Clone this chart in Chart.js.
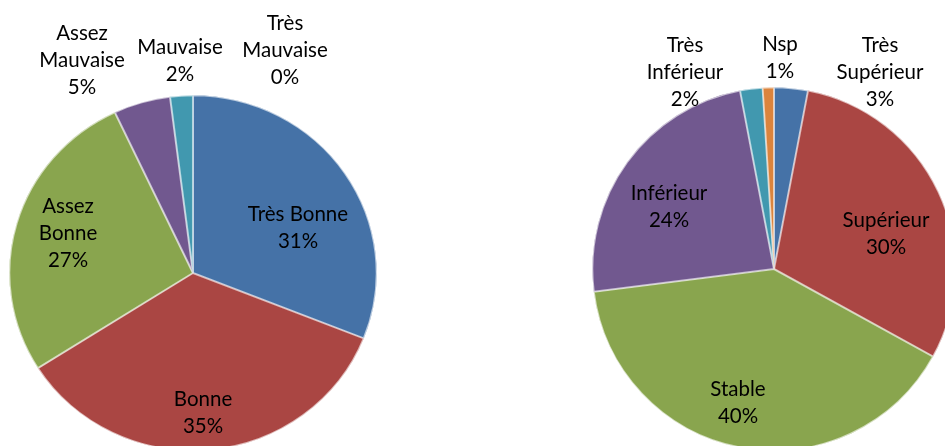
<!DOCTYPE html>
<html>
<head>
<meta charset="utf-8">
<script src="https://cdn.jsdelivr.net/npm/chart.js@4/dist/chart.umd.min.js"></script>
<style>
  html, body { margin: 0; padding: 0; background: #fff; overflow: hidden; }
  body { width: 945px; height: 446px; position: relative; }
  canvas { position: absolute; top: 0; }
</style>
</head>
<body>
<canvas id="pieLeft" width="470" height="470" style="left:0"></canvas>
<canvas id="pieRight" width="500" height="470" style="left:475px"></canvas>
<script>
// data (percent)
const leftCategories = ['Très Bonne', 'Bonne', 'Assez Bonne', 'Assez Mauvaise', 'Mauvaise', 'Très Mauvaise'];
const leftValues = [31, 35, 27, 5, 2, 0];
const rightCategories = ['Très Supérieur', 'Supérieur', 'Stable', 'Inférieur', 'Très Inférieur', 'Nsp'];
const rightValues = [3, 30, 40, 24, 2, 1];
const sliceColors = ['#4572A7', '#AA4643', '#89A54E', '#71588F', '#4198AF', '#DB843D'];

// the left pie is a bit wider than tall in the picture
const stretch = {
  id: 'stretch',
  beforeDatasetsDraw(chart, args, opts) {
    if (!opts.x || opts.x === 1) return;
    const arc = chart.getDatasetMeta(0).data[0];
    const ctx = chart.ctx;
    ctx.save();
    ctx.translate(arc.x, arc.y);
    ctx.scale(opts.x, 1);
    ctx.translate(-arc.x, -arc.y);
  },
  afterDatasetsDraw(chart, args, opts) {
    if (!opts.x || opts.x === 1) return;
    chart.ctx.restore();
  }
};

// name + percent, placed relative to the pie centre like the excel labels
const sliceLabels = {
  id: 'sliceLabels',
  afterDraw(chart, args, opts) {
    const ctx = chart.ctx;
    const meta = chart.getDatasetMeta(0);
    const values = chart.data.datasets[0].data;
    const total = values.reduce((a, b) => a + b, 0);
    ctx.save();
    ctx.font = '20.5px Lato';
    ctx.fillStyle = '#000';
    ctx.textAlign = 'center';
    ctx.textBaseline = 'middle';
    meta.data.forEach((arc, i) => {
      const name = chart.data.labels[i];
      let lines = opts.wrap[i] ? name.split(' ') : [name];
      lines = lines.concat(Math.round(values[i] / total * 100) + '%');
      const x = arc.x + opts.offsets[i][0];
      const y0 = arc.y + opts.offsets[i][1] - (lines.length - 1) * opts.lineHeight / 2;
      lines.forEach((t, k) => ctx.fillText(t, x, y0 + k * opts.lineHeight));
    });
    ctx.restore();
  }
};

function makePie(id, labels, values, padding, stretchX, wrap, offsets) {
  return new Chart(document.getElementById(id), {
    type: 'pie',
    data: {
      labels: labels,
      datasets: [{
        data: values,
        backgroundColor: sliceColors,
        borderColor: 'rgba(255,255,255,0.6)',
        borderWidth: 1,
        borderAlign: 'inner',
        hoverOffset: 0,
        offset: 0
      }]
    },
    options: {
      responsive: false,
      animation: false,
      events: [],
      layout: { padding: padding },
      plugins: {
        legend: { display: false },
        tooltip: { enabled: false },
        stretch: { x: stretchX },
        sliceLabels: { wrap: wrap, offsets: offsets, lineHeight: 27 }
      }
    },
    plugins: [stretch, sliceLabels]
  });
}

makePie('pieLeft', leftCategories, leftValues,
  { left: 15, top: 95, right: 99, bottom: 19 }, 1.034,
  [false, false, true, true, false, true],
  [[105, -45], [10, 140], [-125, -40], [-111, -213], [-13, -212], [92, -223]]);

makePie('pieRight', rightCategories, rightValues,
  { left: 117, top: 87, right: 19, bottom: 19 }, 1,
  [true, false, false, false, true, false],
  [[106, -197], [112, -35], [-36, 134], [-105, -62], [-89, -197], [6, -211]]);
</script>
</body>
</html>
